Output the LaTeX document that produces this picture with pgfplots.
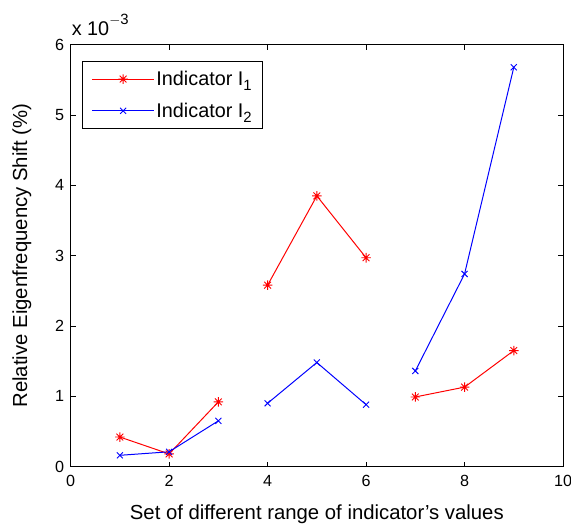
\documentclass[border=0pt]{standalone}
\usepackage{pgfplots}
\pgfplotsset{compat=1.18}
\usepackage{fontspec}
\setmainfont{Liberation Sans}
\pgfdeclareplotmark{mstar}{%
  \pgfpathmoveto{\pgfqpoint{0pt}{\pgfplotmarksize}}\pgfpathlineto{\pgfqpoint{0pt}{-\pgfplotmarksize}}%
  \pgfpathmoveto{\pgfqpoint{\pgfplotmarksize}{0pt}}\pgfpathlineto{\pgfqpoint{-\pgfplotmarksize}{0pt}}%
  \pgfpathmoveto{\pgfqpoint{0.707\pgfplotmarksize}{0.707\pgfplotmarksize}}\pgfpathlineto{\pgfqpoint{-0.707\pgfplotmarksize}{-0.707\pgfplotmarksize}}%
  \pgfpathmoveto{\pgfqpoint{0.707\pgfplotmarksize}{-0.707\pgfplotmarksize}}\pgfpathlineto{\pgfqpoint{-0.707\pgfplotmarksize}{0.707\pgfplotmarksize}}%
  \pgfusepathqstroke}
\newcommand{\sub}[1]{\raisebox{-0.5ex}{\fontsize{15}{15}\selectfont #1}}
\begin{document}
\begin{tikzpicture}
\useasboundingbox (-71bp,-63bp) rectangle (503bp,469bp);
\begin{axis}[
  at={(0,0)}, anchor=origin,
  scale only axis, width=495bp, height=424bp,
  xmin=0, xmax=10, ymin=0, ymax=6,
  xtick={0,2,4,6,8,10}, ytick={0,1,2,3,4,5,6},
  tick align=inside, major tick length=5bp,
  axis line style={line width=1.1pt},
  tick style={line width=0.6pt, black},
  /pgf/number format/assume math mode=true,
  tick label style={font=\fontsize{16.3}{18}\selectfont},
  xticklabel style={yshift=-5bp},
  yticklabel style={xshift=-3bp},
  xlabel={Set of different range of indicator’s values},
  ylabel={Relative Eigenfrequency Shift (\%)},
  every axis x label/.style={at={(axis description cs:0.5,-0.113)}, anchor=center, font=\fontsize{20.5}{24}\selectfont},
  every axis y label/.style={at={(axis description cs:-0.099,0.5)}, rotate=90, anchor=center, font=\fontsize{20.5}{24}\selectfont},
  legend style={at={(axis description cs:0.024,0.962)}, anchor=north west,
    font=\fontsize{20}{24}\selectfont, draw=black, line width=0.8pt,
    inner xsep=9bp, inner ysep=8bp, row sep=12bp,
    /tikz/every even column/.append style={column sep=6bp}},
  legend cell align=left,
  legend image code/.code={\draw[#1, line width=1pt] (0bp,0bp) -- (62bp,0bp); \draw[#1, only marks] plot coordinates {(31bp,0bp)};},
  clip=false,
]
\addplot[red, line width=1pt, mark=mstar, mark size=4.8bp, mark options={line width=0.9pt}] coordinates {(1,0.42) (2,0.18) (3,0.92)};
\addlegendentry{Indicator I\sub{1}}
\addplot[blue, line width=1pt, mark=x, mark size=4.3bp, mark options={line width=0.9pt}] coordinates {(1,0.16) (2,0.21) (3,0.65)};
\addlegendentry{Indicator I\sub{2}}
\addplot[red, line width=1pt, mark=mstar, mark size=4.8bp, mark options={line width=0.9pt}, forget plot] coordinates {(4,2.58) (5,3.85) (6,2.97)};
\addplot[red, line width=1pt, mark=mstar, mark size=4.8bp, mark options={line width=0.9pt}, forget plot] coordinates {(7,0.99) (8,1.13) (9,1.65)};
\addplot[blue, line width=1pt, mark=x, mark size=4.3bp, mark options={line width=0.9pt}, forget plot] coordinates {(4,0.90) (5,1.48) (6,0.88)};
\addplot[blue, line width=1pt, mark=x, mark size=4.3bp, mark options={line width=0.9pt}, forget plot] coordinates {(7,1.36) (8,2.74) (9,5.68)};
\node[anchor=base west, inner sep=0pt, font=\fontsize{20}{24}\selectfont] at (axis description cs:0.002,1.021) {x 10\raisebox{11bp}{\fontsize{15}{15}\selectfont $-$3}};
\end{axis}
\end{tikzpicture}
\end{document}
